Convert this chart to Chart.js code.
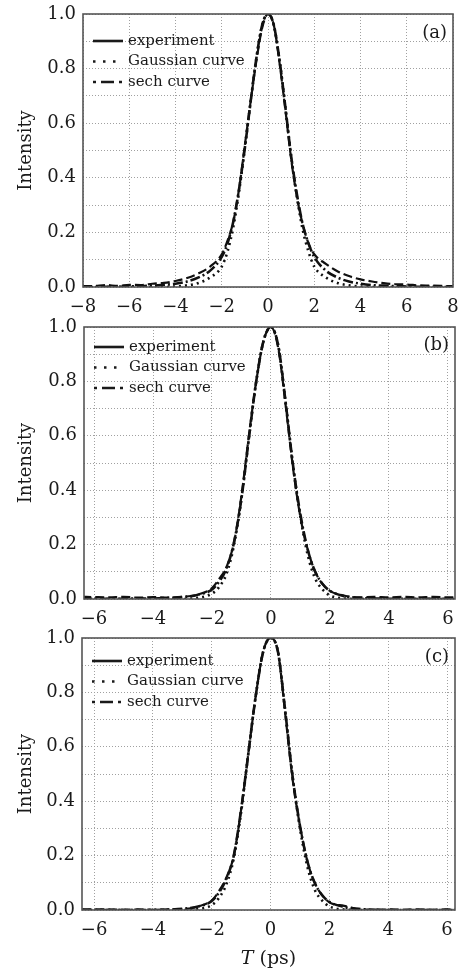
<!DOCTYPE html>
<html>
<head>
<meta charset="utf-8">
<script src="https://cdn.jsdelivr.net/npm/chart.js@4.4.1/dist/chart.umd.min.js"></script>
<style>
  body { margin: 0; background: #fff; }
  #wrap { position: relative; width: 459px; height: 968px; overflow: hidden; }
  .panel { position: absolute; left: 0; }
  #xTitle {
    position: absolute; left: 82px; width: 373px; top: 945px;
    text-align: center; font: 19px "DejaVu Serif", serif; color: #1a1a1a; line-height: 24px;
  }
</style>
</head>
<body>
<div id="wrap">
  <canvas id="panelA" class="panel"></canvas>
  <canvas id="panelB" class="panel"></canvas>
  <canvas id="panelC" class="panel"></canvas>
  <div id="xTitle"><i>T</i> (ps)</div>
</div>
<script>
// values (time in ps, normalised intensity)
const timeA = [-8, -7.5, -7, -6.5, -6, -5.5, -5, -4.5, -4, -3.5, -3, -2.5, -2,
  -1.75, -1.5, -1.25, -1, -0.75, -0.5, -0.25, 0, 0.25, 0.5, 0.75, 1, 1.25, 1.5, 1.75,
  2, 2.5, 3, 3.5, 4, 4.5, 5, 5.5, 6, 6.5, 7, 7.5, 8];
const experimentA = [0.003, 0.004, 0.007, 0.004, 0.008, 0.007, 0.012, 0.015, 0.022, 0.033, 0.05, 0.075, 0.12,
  0.17, 0.24, 0.36, 0.52, 0.68, 0.83, 0.95, 1.0, 0.96, 0.82, 0.65, 0.47, 0.33, 0.23, 0.16,
  0.12, 0.085, 0.058, 0.04, 0.028, 0.02, 0.014, 0.01, 0.009, 0.006, 0.005, 0.004, 0.003];
const gaussianA = [0, 0, 0, 0, 0, 0, 0, 0, 0.002, 0.006, 0.015, 0.035, 0.075,
  0.13, 0.22, 0.35, 0.51, 0.68, 0.84, 0.96, 1.0, 0.96, 0.83, 0.66, 0.48, 0.33, 0.21, 0.13,
  0.075, 0.035, 0.015, 0.006, 0.002, 0, 0, 0, 0, 0, 0, 0, 0];
const sechA = [0, 0, 0.001, 0.001, 0.002, 0.003, 0.005, 0.008, 0.012, 0.02, 0.035, 0.06, 0.11,
  0.16, 0.24, 0.36, 0.51, 0.68, 0.84, 0.96, 1.0, 0.96, 0.83, 0.66, 0.48, 0.34, 0.23, 0.16,
  0.11, 0.06, 0.035, 0.02, 0.012, 0.007, 0.005, 0.003, 0.002, 0.001, 0.001, 0, 0];

const timeBC = [-6.4, -6, -5.5, -5, -4.5, -4, -3.5, -3, -2.5, -2, -1.75, -1.5, -1.25, -1, -0.75,
  -0.5, -0.25, 0, 0.25, 0.5, 0.75, 1, 1.25, 1.5, 1.75, 2, 2.5, 3, 3.5, 4, 4.5, 5, 5.5, 6, 6.3];
const experimentB = [0.008, 0.007, 0.006, 0.008, 0.005, 0.007, 0.005, 0.008, 0.016, 0.04, 0.075, 0.12, 0.21, 0.38, 0.6,
  0.8, 0.95, 1.0, 0.92, 0.71, 0.48, 0.3, 0.18, 0.1, 0.055, 0.03, 0.012, 0.006, 0.008, 0.006, 0.008, 0.006, 0.008, 0.006, 0.007];
const gaussianB = [0, 0, 0, 0, 0, 0, 0, 0, 0.004, 0.02, 0.045, 0.095, 0.2, 0.37, 0.59,
  0.8, 0.95, 1.0, 0.93, 0.72, 0.49, 0.3, 0.16, 0.075, 0.035, 0.013, 0.002, 0, 0, 0, 0, 0, 0, 0, 0];
const sechB = [0.001, 0.001, 0.001, 0.001, 0.002, 0.002, 0.004, 0.007, 0.015, 0.035, 0.065, 0.115, 0.21, 0.37, 0.59,
  0.8, 0.95, 1.0, 0.93, 0.72, 0.49, 0.31, 0.18, 0.1, 0.055, 0.03, 0.01, 0.004, 0.002, 0.001, 0.001, 0.001, 0.001, 0.001, 0.001];
const experimentC = [0.002, 0.002, 0.002, 0.001, 0.002, 0.001, 0.002, 0.003, 0.012, 0.035, 0.07, 0.12, 0.2, 0.37, 0.58,
  0.79, 0.95, 1.0, 0.95, 0.72, 0.48, 0.31, 0.18, 0.1, 0.055, 0.028, 0.015, 0.003, 0.001, 0.002, 0.001, 0.002, 0.001, 0.002, 0.001];
const gaussianC = [0, 0, 0, 0, 0, 0, 0, 0, 0.003, 0.018, 0.045, 0.095, 0.19, 0.36, 0.58,
  0.79, 0.95, 1.0, 0.95, 0.73, 0.49, 0.3, 0.16, 0.075, 0.035, 0.013, 0.002, 0, 0, 0, 0, 0, 0, 0, 0];
const sechC = [0, 0, 0, 0, 0, 0, 0.001, 0.004, 0.012, 0.033, 0.065, 0.115, 0.2, 0.37, 0.58,
  0.79, 0.95, 1.0, 0.95, 0.73, 0.49, 0.31, 0.18, 0.1, 0.055, 0.03, 0.011, 0.004, 0.001, 0, 0, 0, 0, 0, 0];

const xTicksA = [-8, -6, -4, -2, 0, 2, 4, 6, 8];
const xTicksBC = [-6, -4, -2, 0, 2, 4, 6];
const yTicks = [0, 0.1, 0.2, 0.3, 0.4, 0.5, 0.6, 0.7, 0.8, 0.9, 1.0];
const seriesNames = ["experiment", "Gaussian curve", "sech curve"];
const panelLabels = ["(a)", "(b)", "(c)"];

const FONT = "DejaVu Serif";
const INK = "#1a1a1a";
const dashStyles = [[9, 4], [2, 4], [10, 3, 2, 3]];

// legend + panel tag drawn inside the plot, plus the closed frame
const panelDecor = {
	id: "panelDecor",
	afterDatasetsDraw(chart, args, opts) {
		const { ctx, chartArea } = chart;
		ctx.save();
		ctx.strokeStyle = "#555";
		ctx.lineWidth = 1.6;
		ctx.strokeRect(chartArea.left, chartArea.top, chartArea.right - chartArea.left, chartArea.bottom - chartArea.top);

		const x0 = chartArea.left + 10;
		ctx.font = `15px "${FONT}"`;
		ctx.textBaseline = "middle";
		ctx.fillStyle = INK;
		ctx.strokeStyle = INK;
		ctx.lineWidth = 2.6;
		const samples = [[], [2.5, 7.5], [3, 5, 13, 5, 3, 20]];
		seriesNames.forEach((name, i) => {
			const y = chartArea.top + opts.legendTop + i * 20.5;
			ctx.setLineDash(samples[i]);
			ctx.beginPath();
			ctx.moveTo(x0, y);
			ctx.lineTo(x0 + (i === 1 ? 25 : 30), y);
			ctx.stroke();
			ctx.setLineDash([]);
			ctx.fillText(name, chartArea.left + 45, y);
		});

		ctx.font = `18px "${FONT}"`;
		ctx.textAlign = "right";
		ctx.fillText(opts.label, chartArea.right - 6, chartArea.top + opts.labelTop);
		ctx.restore();
	},
};

const makeDatasets = (time, series) =>
	series.map((values, idx) => ({
		label: seriesNames[idx],
		data: values.map((v, i) => ({ x: time[i], y: v })),
		borderColor: "#111",
		borderWidth: idx === 0 ? 2.2 : 2.6,
		borderDash: dashStyles[idx],
		pointRadius: 0,
		cubicInterpolationMode: "monotone",
		order: 3 - idx,
	}));

const fmtTick = (v) => (v < 0 ? "\u2212" + Math.abs(v) : String(v));

// keep tick-label overflow from pushing the plot area around
const noEdgePadding = (scale) => {
	scale.paddingTop = 0;
	scale.paddingBottom = 0;
	scale.paddingLeft = 0;
	scale.paddingRight = 0;
};

const makeChart = (id, p) => {
	const canvas = document.getElementById(id);
	canvas.width = 459;
	canvas.height = p.height;
	canvas.style.top = p.top + "px";

	return new Chart(canvas.getContext("2d"), {
		type: "line",
		data: { datasets: makeDatasets(p.time, p.series) },
		options: {
			animation: false,
			responsive: false,
			events: [],
			layout: { padding: { top: p.padTop, right: p.padRight, left: 0, bottom: 0 } },
			plugins: {
				legend: { display: false },
				tooltip: { enabled: false },
				panelDecor: { label: p.label, legendTop: p.legendTop, labelTop: p.labelTop },
			},
			scales: {
				x: {
					type: "linear",
					min: p.xMin,
					max: p.xMax,
					afterBuildTicks: (scale) => {
						scale.ticks = p.xTicks.map((v) => ({ value: v }));
					},
					afterFit: (scale) => {
						scale.height = p.xAxisHeight;
						noEdgePadding(scale);
					},
					grid: { color: "#a0a0a0", lineWidth: 1, drawTicks: false },
					border: { display: false, dash: [1, 2] },
					ticks: {
						padding: 11,
						color: INK,
						maxRotation: 0,
						font: { family: FONT, size: 18, lineHeight: 1 },
						callback: (v) => fmtTick(v),
					},
				},
				y: {
					min: 0,
					max: 1,
					afterBuildTicks: (scale) => {
						scale.ticks = yTicks.map((v) => ({ value: v }));
					},
					afterFit: (scale) => {
						scale.width = p.yAxisWidth;
						noEdgePadding(scale);
					},
					grid: { color: "#a0a0a0", lineWidth: 1, drawTicks: false },
					border: { display: false, dash: [1, 2] },
					title: {
						display: true,
						text: "Intensity",
						color: INK,
						font: { family: FONT, size: 18 },
						padding: { top: 16, bottom: 0 },
					},
					ticks: {
						padding: 7,
						color: INK,
						font: { family: FONT, size: 18, lineHeight: 1 },
						callback: (v, i) => (i % 2 === 0 ? v.toFixed(1) : ""),
					},
				},
			},
		},
		plugins: [panelDecor],
	});
};

makeChart("panelA", {
	top: 0, height: 318, padTop: 14, padRight: 6, yAxisWidth: 83, xAxisHeight: 31,
	time: timeA, series: [experimentA, gaussianA, sechA],
	xMin: -8, xMax: 8, xTicks: xTicksA,
	label: panelLabels[0], legendTop: 27, labelTop: 19,
});

makeChart("panelB", {
	top: 318, height: 310, padTop: 9, padRight: 4, yAxisWidth: 84, xAxisHeight: 29,
	time: timeBC, series: [experimentB, gaussianB, sechB],
	xMin: -6.34, xMax: 6.24, xTicks: xTicksBC,
	label: panelLabels[1], legendTop: 20, labelTop: 18,
});

makeChart("panelC", {
	top: 628, height: 340, padTop: 10, padRight: 4, yAxisWidth: 82, xAxisHeight: 58,
	time: timeBC, series: [experimentC, gaussianC, sechC],
	xMin: -6.41, xMax: 6.27, xTicks: xTicksBC,
	label: panelLabels[2], legendTop: 23, labelTop: 19,
});
</script>
</body>
</html>
